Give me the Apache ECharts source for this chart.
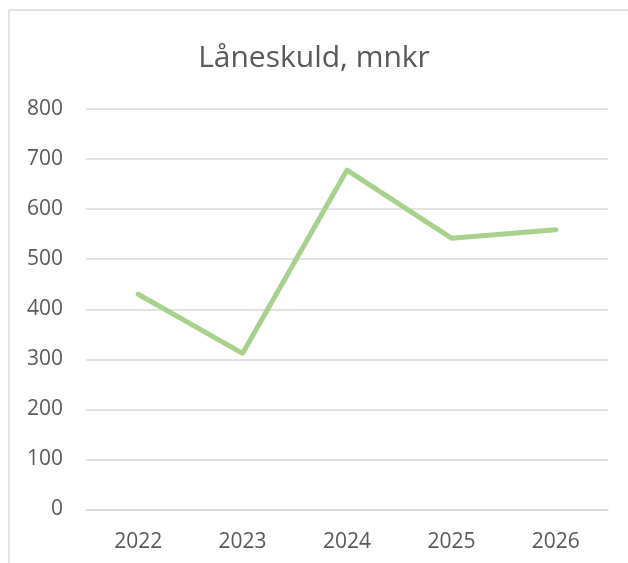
<!DOCTYPE html>
<html>
<head>
<meta charset="utf-8">
<script src="https://cdn.jsdelivr.net/npm/echarts@6/dist/echarts.min.js"></script>
<style>
  html, body { margin: 0; padding: 0; background: #fff; }
  #chart { width: 628px; height: 563px; }
</style>
</head>
<body>
<div id="chart"></div>
<script>
// data
const years = ["2022", "2023", "2024", "2025", "2026"];
const laneskuld = [430, 312, 678, 542, 559];
const yTicks = [0, 100, 200, 300, 400, 500, 600, 700, 800];

const chart = echarts.init(document.getElementById("chart"), null, { renderer: "canvas" });

const option = {
  backgroundColor: "#fff",
  animation: false,
  title: {
    text: "Låneskuld, mnkr",
    left: "center",
    top: 38,
    textStyle: {
      fontFamily: "Open Sans",
      fontSize: 30,
      fontWeight: "normal",
      color: "#595959",
    },
  },
  graphic: [
    // chart frame, only top and left edges are in view
    {
      type: "line",
      shape: { x1: 9, y1: 10, x2: 628, y2: 10 },
      style: { stroke: "#D9D9D9", lineWidth: 1.5 },
      silent: true,
    },
    {
      type: "line",
      shape: { x1: 9, y1: 10, x2: 9, y2: 563 },
      style: { stroke: "#D9D9D9", lineWidth: 1.5 },
      silent: true,
    },
  ],
  grid: {
    left: 86,
    right: 20,
    top: 109,
    bottom: 53.5,
    containLabel: false,
  },
  xAxis: {
    type: "category",
    data: years,
    boundaryGap: true,
    axisLine: { show: true, lineStyle: { color: "#D9D9D9", width: 1.5 } },
    axisTick: { show: false },
    axisLabel: {
      margin: 22,
      fontFamily: "Open Sans",
      fontSize: 21,
      color: "#595959",
    },
  },
  yAxis: {
    type: "value",
    min: yTicks[0],
    max: yTicks[yTicks.length - 1],
    interval: 100,
    axisLine: { show: false },
    axisTick: { show: false },
    splitLine: { lineStyle: { color: "#D9D9D9", width: 1.5 } },
    axisLabel: {
      margin: 23,
      fontFamily: "Open Sans",
      fontSize: 21,
      color: "#595959",
    },
  },
  series: [
    {
      type: "line",
      name: "Låneskuld",
      data: laneskuld,
      symbol: "none",
      lineStyle: { color: "#A9D18E", width: 5, cap: "round", join: "round" },
    },
  ],
};

chart.setOption(option);
</script>
</body>
</html>
